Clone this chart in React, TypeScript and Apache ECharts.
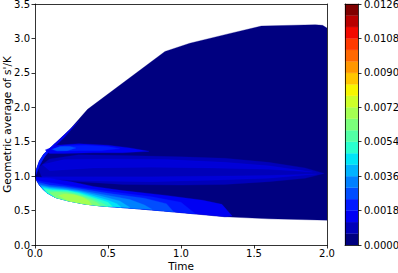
import React, { useEffect, useRef } from "react";
import * as echarts from "echarts";

type P = [number, number];

// ---- tick labels / levels ----
const xTicks = [0, 0.5, 1.0, 1.5, 2.0];
const yTicks = [0, 0.5, 1.0, 1.5, 2.0, 2.5, 3.0, 3.5];
const colorbarLevels = [
  0, 0.0006, 0.0012, 0.0018, 0.0024, 0.003, 0.0036, 0.0042, 0.0048, 0.0054, 0.006,
  0.0066, 0.0072, 0.0078, 0.0084, 0.009, 0.0096, 0.0102, 0.0108, 0.0114, 0.012, 0.0126,
];
const colorbarTicks = [0, 0.0018, 0.0036, 0.0054, 0.0072, 0.009, 0.0108, 0.0126];

// ---- envelope of the filled region (time, geometric average) ----
const envelopeUpper: P[] = [
  [0, 1.0], [0.01, 1.1], [0.03, 1.22], [0.06, 1.32], [0.1, 1.4], [0.17, 1.54], [0.24, 1.68],
  [0.36, 1.97], [0.89, 2.81], [1.06, 2.93], [1.35, 3.08], [1.55, 3.18], [1.92, 3.2],
  [1.97, 3.19], [2.0, 3.15],
];
const envelopeLower: P[] = [
  [0, 1.0], [0.01, 0.94], [0.03, 0.87], [0.05, 0.82], [0.08, 0.76], [0.14, 0.69], [0.23, 0.64],
  [0.34, 0.595], [0.46, 0.565], [0.68, 0.53], [0.9, 0.49], [1.1, 0.45], [1.3, 0.41],
  [1.6, 0.38], [2.0, 0.36],
];

// ---- density features (band index = contour level) ----
const bundleBand1: P[] = [
  [0.02, 1.12], [0.1, 1.25], [0.3, 1.31], [0.6, 1.3], [1.0, 1.28], [1.3, 1.26], [1.6, 1.2],
  [1.85, 1.12], [1.98, 1.04], [1.85, 0.97], [1.6, 0.92], [1.3, 0.88], [1.0, 0.87], [0.6, 0.88],
  [0.3, 0.92], [0.05, 0.97],
];
const bundleUpperBand2: P[] = [
  [0.05, 1.17], [0.2, 1.24], [0.5, 1.25], [0.9, 1.24], [1.3, 1.2], [1.6, 1.15], [1.9, 1.06],
  [1.6, 1.1], [1.2, 1.12], [0.8, 1.13], [0.4, 1.12], [0.1, 1.08],
];
const bundleLowerBand2: P[] = [
  [0.05, 0.99], [0.4, 0.99], [0.8, 0.99], [1.2, 1.0], [1.6, 1.01], [1.93, 1.03], [1.6, 0.97],
  [1.2, 0.94], [0.8, 0.92], [0.4, 0.93], [0.1, 0.96],
];
const upperEdgeBand2Inner: P[] = [
  [0.3, 1.8], [0.2, 1.56], [0.12, 1.4], [0.06, 1.27], [0.02, 1.1], [0.005, 1.01],
];
const upperEdgeBand3Inner: P[] = [
  [0.14, 1.48], [0.08, 1.33], [0.03, 1.16], [0.01, 1.04],
];
const streakBand2: P[] = [
  [0.07, 1.38], [0.15, 1.45], [0.3, 1.47], [0.5, 1.45], [0.65, 1.41], [0.78, 1.36],
  [0.6, 1.34], [0.4, 1.34], [0.2, 1.33], [0.1, 1.33],
];
const streakBand3: P[] = [
  [0.11, 1.39], [0.2, 1.44], [0.35, 1.45], [0.5, 1.43], [0.58, 1.4], [0.45, 1.37],
  [0.3, 1.37], [0.15, 1.36],
];
const streakBand4: P[] = [
  [0.12, 1.39], [0.17, 1.43], [0.24, 1.43], [0.28, 1.41], [0.22, 1.37], [0.15, 1.37],
];
// top curves of the crescents that sit on the lower edge
const lowerBand2Top: P[] = [
  [0, 0.99], [0.1, 0.97], [0.25, 0.92], [0.4, 0.85], [0.6, 0.79], [0.9, 0.72], [1.15, 0.65],
  [1.28, 0.59], [1.35, 0.42],
];
const lowerBand3Top: P[] = [
  [0.01, 0.94], [0.06, 0.92], [0.15, 0.89], [0.3, 0.84], [0.5, 0.78], [0.8, 0.7], [1.0, 0.62],
  [1.1, 0.45],
];
const lowerBand4Top: P[] = [
  [0.02, 0.91], [0.1, 0.87], [0.2, 0.85], [0.3, 0.82], [0.5, 0.75], [0.75, 0.68], [0.9, 0.6],
  [0.95, 0.48],
];
const lowerBand5Top: P[] = [
  [0.03, 0.88], [0.1, 0.85], [0.2, 0.83], [0.3, 0.8], [0.5, 0.72], [0.65, 0.66], [0.75, 0.58],
  [0.8, 0.52],
];
const lowerBand6Top: P[] = [
  [0.04, 0.86], [0.1, 0.835], [0.2, 0.815], [0.3, 0.785], [0.45, 0.71], [0.58, 0.64], [0.65, 0.545],
];
const lowerBand7Top: P[] = [
  [0.05, 0.84], [0.1, 0.82], [0.2, 0.8], [0.3, 0.77], [0.4, 0.71], [0.5, 0.65], [0.56, 0.6],
  [0.59, 0.55],
];
const lowerBand8Top: P[] = [
  [0.06, 0.82], [0.12, 0.8], [0.22, 0.79], [0.3, 0.755], [0.4, 0.69], [0.5, 0.62], [0.53, 0.56],
];
const lowerBand9Top: P[] = [
  [0.08, 0.79], [0.14, 0.785], [0.22, 0.775], [0.3, 0.74], [0.4, 0.67], [0.47, 0.6], [0.5, 0.56],
];
const lowerBand10Top: P[] = [
  [0.1, 0.76], [0.15, 0.77], [0.22, 0.76], [0.3, 0.72], [0.38, 0.66], [0.43, 0.61], [0.45, 0.566],
];
const lowerBand11Top: P[] = [
  [0.16, 0.72], [0.2, 0.74], [0.27, 0.73], [0.33, 0.69], [0.37, 0.64], [0.39, 0.58],
];

// ---- helpers (geometry assembly + jet colormap) ----
function crescent(top: P[]): P[] {
  const t0 = top[0][0];
  const t1 = top[top.length - 1][0];
  const bottom = envelopeLower.filter((p) => p[0] > t0 && p[0] < t1).slice().reverse();
  return [...top, ...bottom];
}
function upperRibbon(inner: P[]): P[] {
  const tEnd = inner[0][0];
  const outer = envelopeUpper.filter((p) => p[0] < tEnd);
  return [...outer, ...inner];
}
function lerpSeg(x: number, pts: number[][]): number {
  for (let i = 0; i < pts.length - 1; i++) {
    const [x0, y0] = pts[i];
    const [x1, y1] = pts[i + 1];
    if (x >= x0 && x <= x1) return y0 + ((y1 - y0) * (x - x0)) / (x1 - x0 || 1);
  }
  return pts[pts.length - 1][1];
}
function jet(x: number): string {
  const r = lerpSeg(x, [[0, 0], [0.35, 0], [0.66, 1], [0.89, 1], [1, 0.5]]);
  const g = lerpSeg(x, [[0, 0], [0.125, 0], [0.375, 1], [0.64, 1], [0.91, 0], [1, 0]]);
  const b = lerpSeg(x, [[0, 0.5], [0.11, 1], [0.34, 1], [0.65, 0], [1, 0]]);
  const h = (v: number) => Math.round(Math.max(0, Math.min(1, v)) * 255).toString(16).padStart(2, "0");
  return "#" + h(r) + h(g) + h(b);
}
const nBands = colorbarLevels.length - 1;
const bandColor = (i: number) => jet(i / (nBands - 1));

const layers: { band: number; pts: P[]; alpha?: number }[] = [
  { band: 0, pts: [...envelopeUpper, ...envelopeLower.slice(1).reverse()] },
  { band: 1, pts: bundleBand1 },
  { band: 2, pts: bundleUpperBand2, alpha: 0.55 },
  { band: 2, pts: bundleLowerBand2, alpha: 0.55 },
  { band: 2, pts: upperRibbon(upperEdgeBand2Inner) },
  { band: 3, pts: upperRibbon(upperEdgeBand3Inner) },
  { band: 2, pts: streakBand2 },
  { band: 3, pts: streakBand3 },
  { band: 4, pts: streakBand4 },
  { band: 2, pts: crescent(lowerBand2Top) },
  { band: 3, pts: crescent(lowerBand3Top) },
  { band: 4, pts: crescent(lowerBand4Top) },
  { band: 5, pts: crescent(lowerBand5Top) },
  { band: 6, pts: crescent(lowerBand6Top) },
  { band: 7, pts: crescent(lowerBand7Top) },
  { band: 8, pts: crescent(lowerBand8Top) },
  { band: 9, pts: crescent(lowerBand9Top) },
  { band: 10, pts: crescent(lowerBand10Top) },
  { band: 11, pts: crescent(lowerBand11Top) },
];

const FONT = "DejaVu Sans";
const axisLine = { show: true, onZero: false, lineStyle: { color: "#000", width: 0.8 } };
const tickStyle = { show: true, length: 3.5, lineStyle: { color: "#000", width: 0.8 } };
const labelStyle = { color: "#000", fontSize: 10, fontFamily: FONT };
const bare = {
  type: "value" as const,
  axisLine,
  axisTick: { show: false },
  axisLabel: { show: false },
  splitLine: { show: false },
  z: 10,
};

export default function App() {
  const ref = useRef<HTMLDivElement>(null);
  useEffect(() => {
    if (!ref.current) return;
    const chart = echarts.init(ref.current, null, { renderer: "svg" });
    chart.setOption({
      animation: false,
      backgroundColor: "#fff",
      textStyle: { fontFamily: FONT },
      grid: [
        { left: 35, top: 4, width: 292, height: 241, containLabel: false, outerBoundsMode: "none" },
        { left: 345, top: 4, width: 13, height: 241, containLabel: false, outerBoundsMode: "none" },
      ],
      xAxis: [
        {
          gridIndex: 0, type: "value", min: xTicks[0], max: xTicks[xTicks.length - 1], interval: 0.5,
          position: "bottom", name: "Time", nameLocation: "middle", nameGap: 15,
          nameMoveOverlap: false,
          nameTextStyle: { ...labelStyle, fontSize: 10.5, verticalAlign: "top" },
          axisLine, axisTick: tickStyle,
          axisLabel: { ...labelStyle, margin: 3, formatter: (v: number) => v.toFixed(1) },
          splitLine: { show: false }, z: 10,
        },
        { ...bare, gridIndex: 0, min: 0, max: 2, position: "top" },
        { ...bare, gridIndex: 1, min: 0, max: 1, position: "bottom" },
        { ...bare, gridIndex: 1, min: 0, max: 1, position: "top" },
      ],
      yAxis: [
        {
          gridIndex: 0, type: "value", min: yTicks[0], max: yTicks[yTicks.length - 1], interval: 0.5,
          position: "left", name: "Geometric average of s'/K", nameLocation: "middle", nameGap: 23,
          nameMoveOverlap: false,
          nameTextStyle: { ...labelStyle, fontSize: 10.5 },
          axisLine, axisTick: tickStyle,
          axisLabel: { ...labelStyle, margin: 5, formatter: (v: number) => v.toFixed(1) },
          splitLine: { show: false }, z: 10,
        },
        { ...bare, gridIndex: 0, min: 0, max: 3.5, position: "right" },
        { ...bare, gridIndex: 1, min: 0, max: 1, position: "left" },
        {
          gridIndex: 1, type: "value", min: colorbarTicks[0], max: colorbarTicks[colorbarTicks.length - 1],
          interval: 0.0018, position: "right",
          axisLine, axisTick: tickStyle,
          axisLabel: { ...labelStyle, margin: 6, formatter: (v: number) => v.toFixed(4) },
          splitLine: { show: false }, z: 10,
        },
      ],
      series: [
        {
          type: "custom",
          xAxisIndex: 0,
          yAxisIndex: 0,
          clip: true,
          silent: true,
          z: 2,
          data: layers.map((l, i) => [i, l.band]),
          renderItem: (params: any, api: any) => {
            const layer = layers[params.dataIndex];
            const points = layer.pts.map((p) => api.coord(p));
            const c = bandColor(layer.band);
            return {
              type: "polygon",
              shape: { points },
              style: { fill: c, stroke: c, lineWidth: 0.3, opacity: layer.alpha ?? 1 },
            };
          },
        },
        {
          type: "custom",
          xAxisIndex: 2,
          yAxisIndex: 3,
          silent: true,
          z: 2,
          data: colorbarLevels.slice(0, -1).map((lv, i) => [i, lv, colorbarLevels[i + 1]]),
          renderItem: (params: any, api: any) => {
            const i = params.dataIndex;
            const p0 = api.coord([0, colorbarLevels[i]]);
            const p1 = api.coord([1, colorbarLevels[i + 1]]);
            return {
              type: "rect",
              shape: { x: p0[0], y: p1[1], width: p1[0] - p0[0], height: p0[1] - p1[1] },
              style: { fill: bandColor(i), stroke: bandColor(i), lineWidth: 0.3 },
            };
          },
        },
      ],
    });
    return () => chart.dispose();
  }, []);
  return (
    <div
      ref={ref}
      style={{ position: "fixed", left: 0, top: 0, width: 398, height: 273, background: "#fff" }}
    />
  );
}
